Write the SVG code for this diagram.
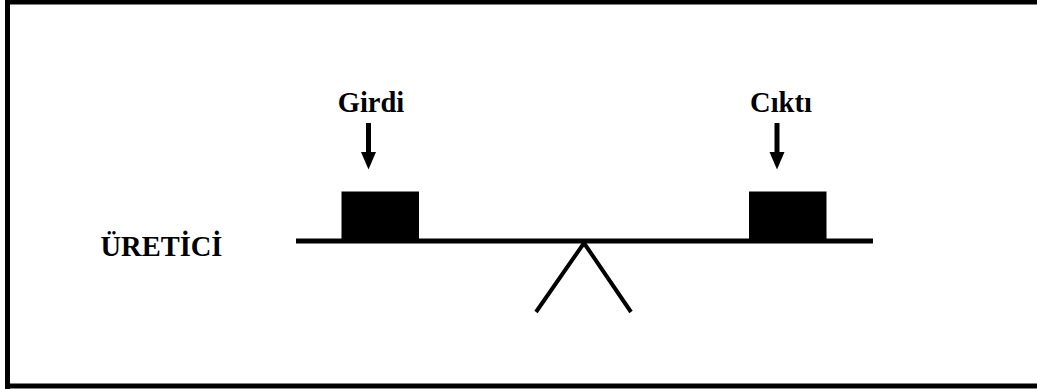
<svg xmlns="http://www.w3.org/2000/svg" width="1037" height="389" viewBox="0 0 1037 389">
  <defs>
    <style>
      .lbl { font-family: "Liberation Serif", "Times New Roman", serif; font-weight: bold; font-size: 28.5px; fill: #000; }
      .bar { stroke: #000; stroke-width: 5; fill: none; }
      .leg { stroke: #000; stroke-width: 4; fill: none; stroke-linecap: butt; }
      .arrow { stroke: #000; stroke-width: 5; fill: none; }
      .head { fill: #000; }
    </style>
    <!-- top labels sit in a band that ends at their baseline -->
    <clipPath id="labelBand">
      <rect x="0" y="0" width="1037" height="112"/>
    </clipPath>
  </defs>
  <rect width="1037" height="389" fill="#fff"/>
  <!-- frame (top, left, bottom edges) -->
  <path d="M7.5 389 V2 H1037 M7.5 386 H1037" stroke="#000" stroke-width="5" fill="none"/>

  <g id="producer-label">
    <text class="lbl" x="100.5" y="256">ÜRETİCİ</text>
  </g>

  <g id="seesaw">
    <line class="bar" x1="296" y1="241" x2="873" y2="241"/>
    <path class="leg" d="M536 312 L584 243 L631 312"/>
  </g>

  <g id="input">
    <rect x="341.5" y="191.5" width="77.5" height="49" fill="#000"/>
    <text class="lbl" x="371" y="111.5" text-anchor="middle" clip-path="url(#labelBand)">Girdi</text>
  </g>

  <g id="output">
    <rect x="749" y="191.5" width="77.5" height="49" fill="#000"/>
    <text class="lbl" x="781" y="111.5" text-anchor="middle" clip-path="url(#labelBand)">Çıktı</text>
  </g>

  <g id="connectors">
    <line class="arrow" x1="368.5" y1="123" x2="368.5" y2="153"/>
    <polygon class="head" points="361,152 376,152 368.5,169.5"/>
    <line class="arrow" x1="777" y1="123" x2="777" y2="153"/>
    <polygon class="head" points="769.5,152 784.5,152 777,169.5"/>
  </g>
</svg>
